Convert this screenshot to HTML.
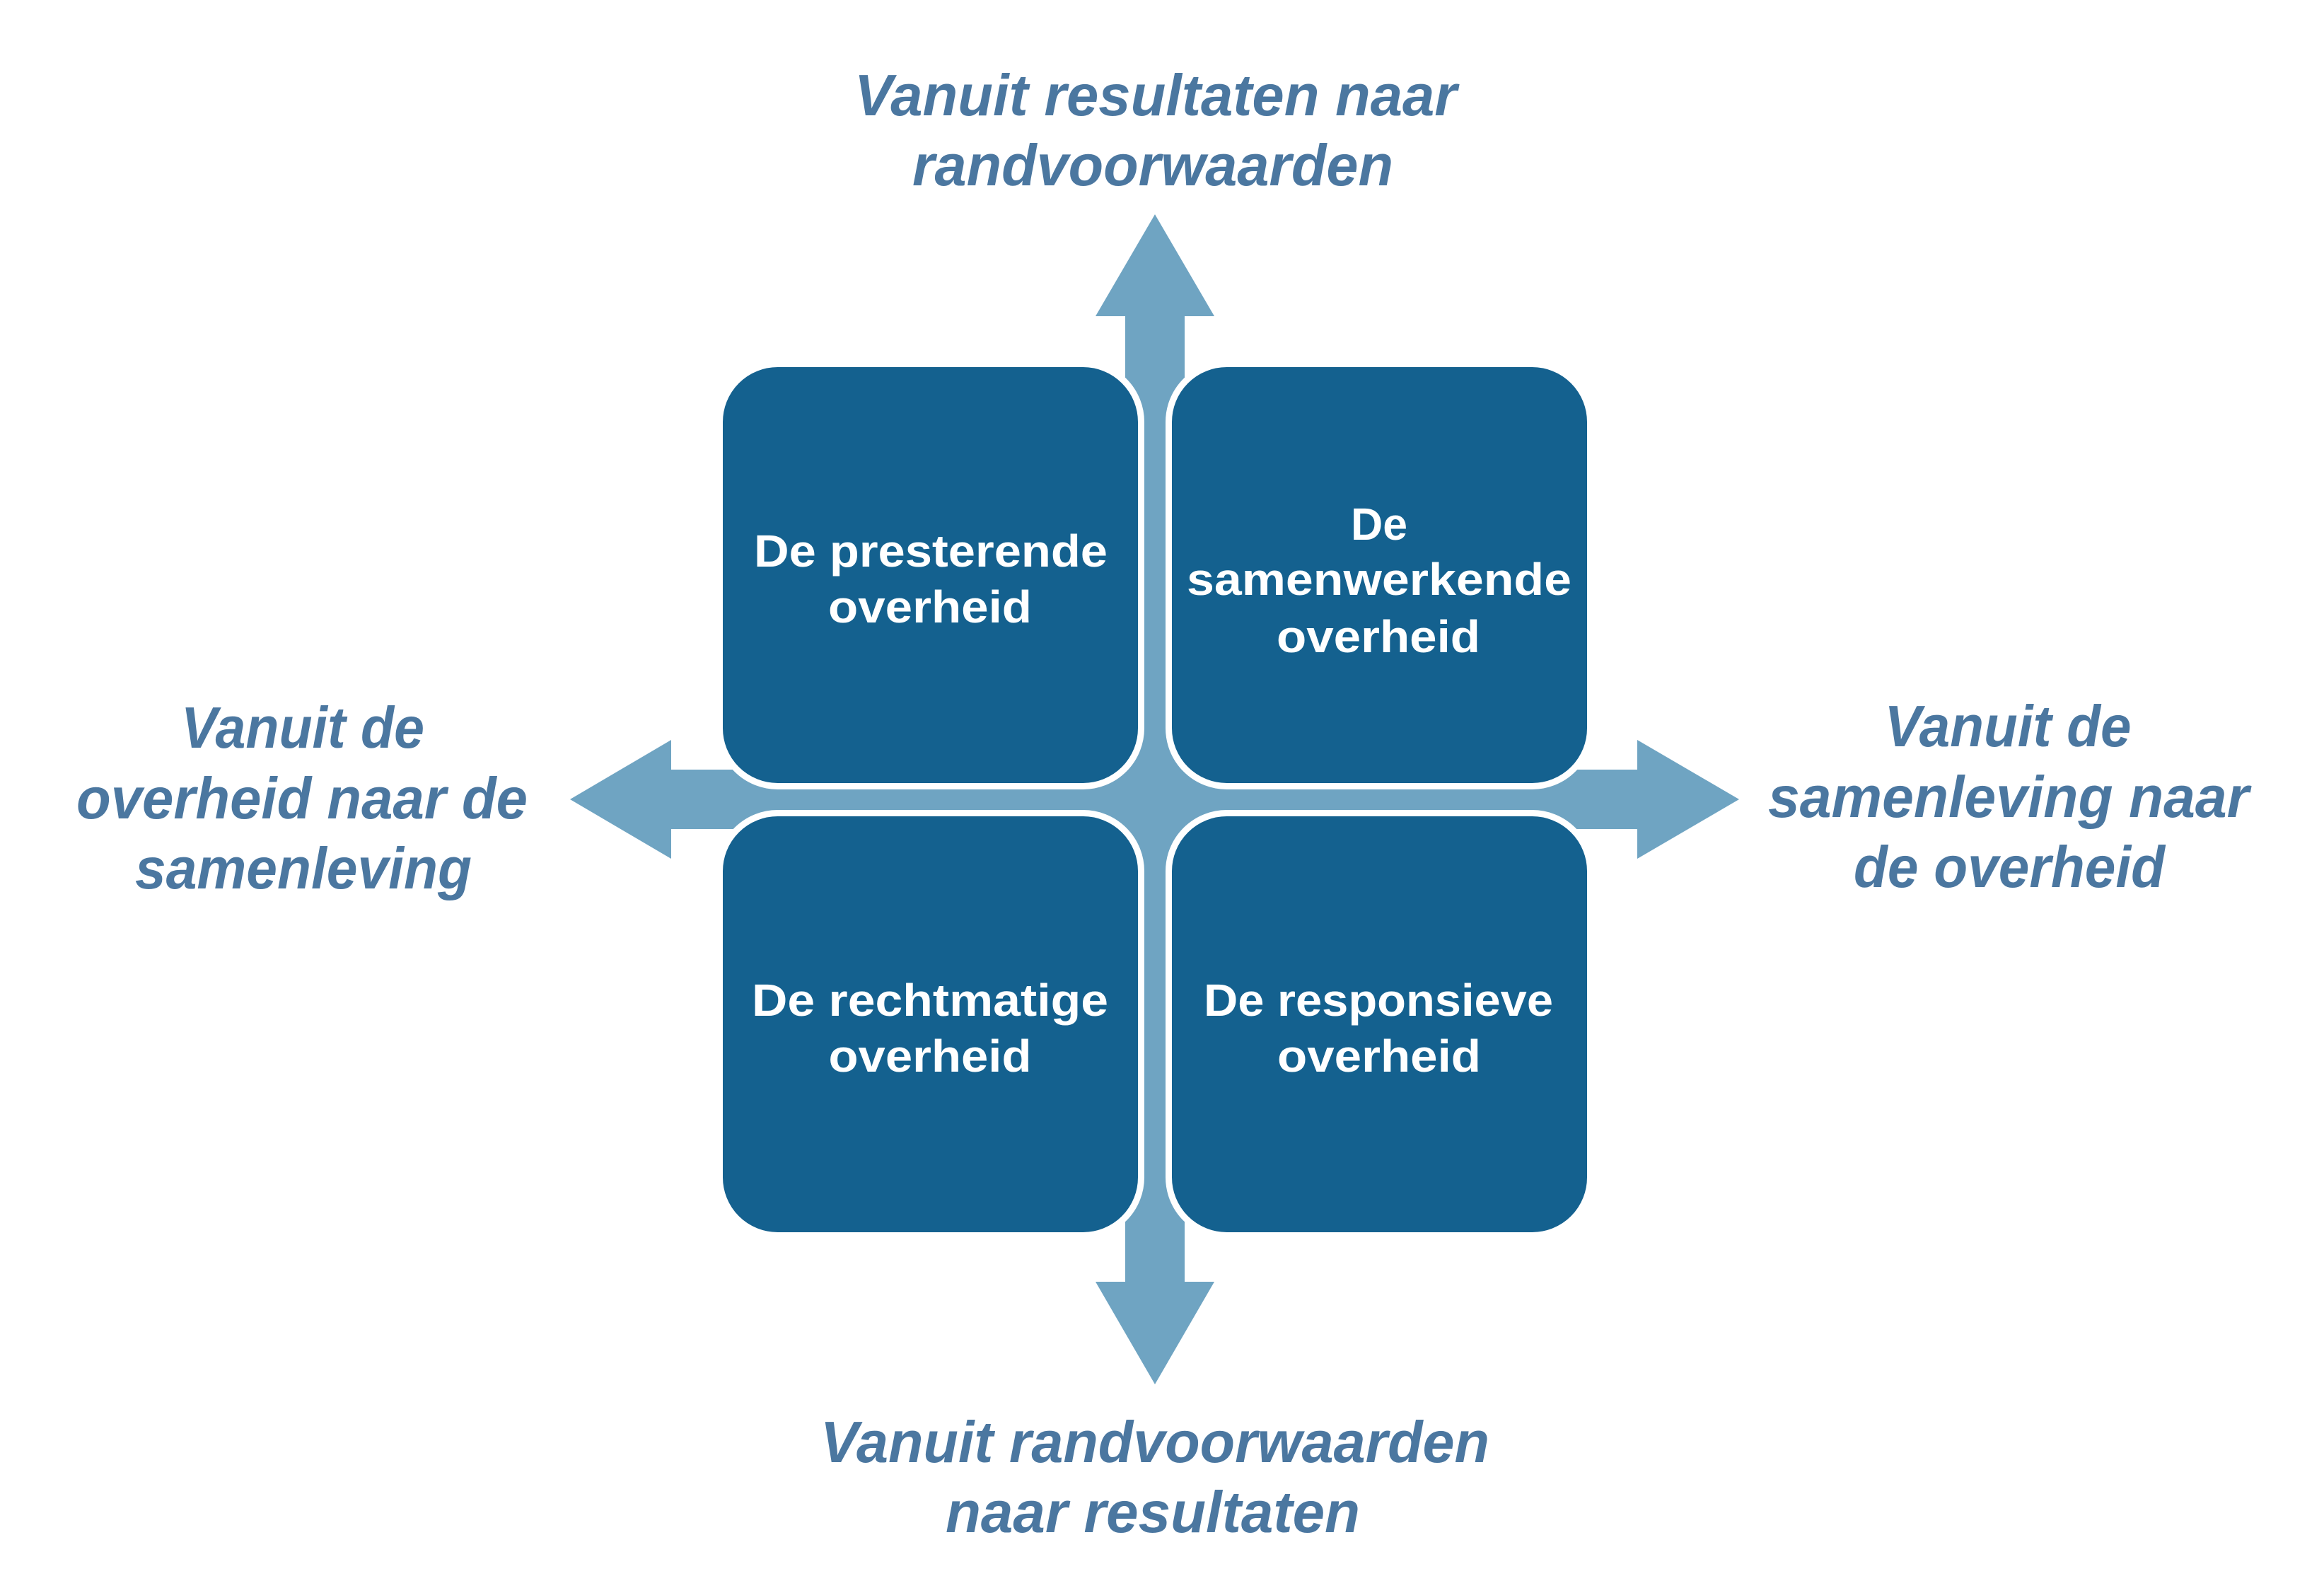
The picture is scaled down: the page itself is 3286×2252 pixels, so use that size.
<!DOCTYPE html>
<html>
<head>
<meta charset="utf-8">
<style>
  html, body { margin: 0; padding: 0; background: #ffffff; }
  body { width: 3286px; height: 2252px; overflow: hidden; }
  svg { display: block; }
  .lbl { font-family: "Liberation Sans", "DejaVu Sans", sans-serif; font-style: italic; font-weight: bold; font-size: 83px; fill: #4b77a0; }
  .box { font-family: "Liberation Sans", "DejaVu Sans", sans-serif; font-weight: bold; font-size: 64px; fill: #ffffff; }
</style>
</head>
<body>
<svg width="3286" height="2252" viewBox="0 0 3286 2252" xmlns="http://www.w3.org/2000/svg">
  <rect x="0" y="0" width="3286" height="2252" fill="#ffffff"/>

  <!-- Arrows -->
  <polygon fill="#6fa4c2" points="1633,303 1717,447 1675,447 1675,1812 1717,1812 1633,1957 1549,1812 1591,1812 1591,447 1549,447"/>
  <polygon fill="#6fa4c2" points="806,1130 949,1046 949,1088 2315,1088 2315,1046 2459,1130 2315,1214 2315,1172 949,1172 949,1214"/>

  <!-- Boxes -->
  <rect x="1017.5" y="514.5" width="596" height="597" rx="82" ry="82" fill="#14618f" stroke="#ffffff" stroke-width="9"/>
  <rect x="1652.5" y="514.5" width="596" height="597" rx="82" ry="82" fill="#14618f" stroke="#ffffff" stroke-width="9"/>
  <rect x="1017.5" y="1149.5" width="596" height="597" rx="82" ry="82" fill="#14618f" stroke="#ffffff" stroke-width="9"/>
  <rect x="1652.5" y="1149.5" width="596" height="597" rx="82" ry="82" fill="#14618f" stroke="#ffffff" stroke-width="9"/>

  <!-- Box texts -->
  <text class="box" x="1316" y="801" text-anchor="middle" textLength="500" lengthAdjust="spacingAndGlyphs">De presterende</text>
  <text class="box" x="1315" y="880" text-anchor="middle" textLength="288" lengthAdjust="spacingAndGlyphs">overheid</text>

  <text class="box" x="1950" y="763" text-anchor="middle" textLength="80" lengthAdjust="spacingAndGlyphs">De</text>
  <text class="box" x="1950" y="841" text-anchor="middle" textLength="544" lengthAdjust="spacingAndGlyphs">samenwerkende</text>
  <text class="box" x="1949" y="922" text-anchor="middle" textLength="288" lengthAdjust="spacingAndGlyphs">overheid</text>

  <text class="box" x="1315" y="1436" text-anchor="middle" textLength="504" lengthAdjust="spacingAndGlyphs">De rechtmatige</text>
  <text class="box" x="1315" y="1515" text-anchor="middle" textLength="287" lengthAdjust="spacingAndGlyphs">overheid</text>

  <text class="box" x="1949" y="1436" text-anchor="middle" textLength="494" lengthAdjust="spacingAndGlyphs">De responsieve</text>
  <text class="box" x="1950" y="1515" text-anchor="middle" textLength="288" lengthAdjust="spacingAndGlyphs">overheid</text>

  <!-- Axis labels -->
  <text class="lbl" x="1634" y="163" text-anchor="middle" textLength="852" lengthAdjust="spacingAndGlyphs">Vanuit resultaten naar</text>
  <text class="lbl" x="1630" y="262" text-anchor="middle" textLength="680" lengthAdjust="spacingAndGlyphs">randvoorwaarden</text>

  <text class="lbl" x="1633" y="2067" text-anchor="middle" textLength="946" lengthAdjust="spacingAndGlyphs">Vanuit randvoorwaarden</text>
  <text class="lbl" x="1630" y="2166" text-anchor="middle" textLength="586" lengthAdjust="spacingAndGlyphs">naar resultaten</text>

  <text class="lbl" x="428" y="1057" text-anchor="middle" textLength="344" lengthAdjust="spacingAndGlyphs">Vanuit de</text>
  <text class="lbl" x="427" y="1157" text-anchor="middle" textLength="638" lengthAdjust="spacingAndGlyphs">overheid naar de</text>
  <text class="lbl" x="429" y="1256" text-anchor="middle" textLength="476" lengthAdjust="spacingAndGlyphs">samenleving</text>

  <text class="lbl" x="2839" y="1055" text-anchor="middle" textLength="349" lengthAdjust="spacingAndGlyphs">Vanuit de</text>
  <text class="lbl" x="2840" y="1155" text-anchor="middle" textLength="680" lengthAdjust="spacingAndGlyphs">samenleving naar</text>
  <text class="lbl" x="2841" y="1254" text-anchor="middle" textLength="440" lengthAdjust="spacingAndGlyphs">de overheid</text>
</svg>
</body>
</html>
